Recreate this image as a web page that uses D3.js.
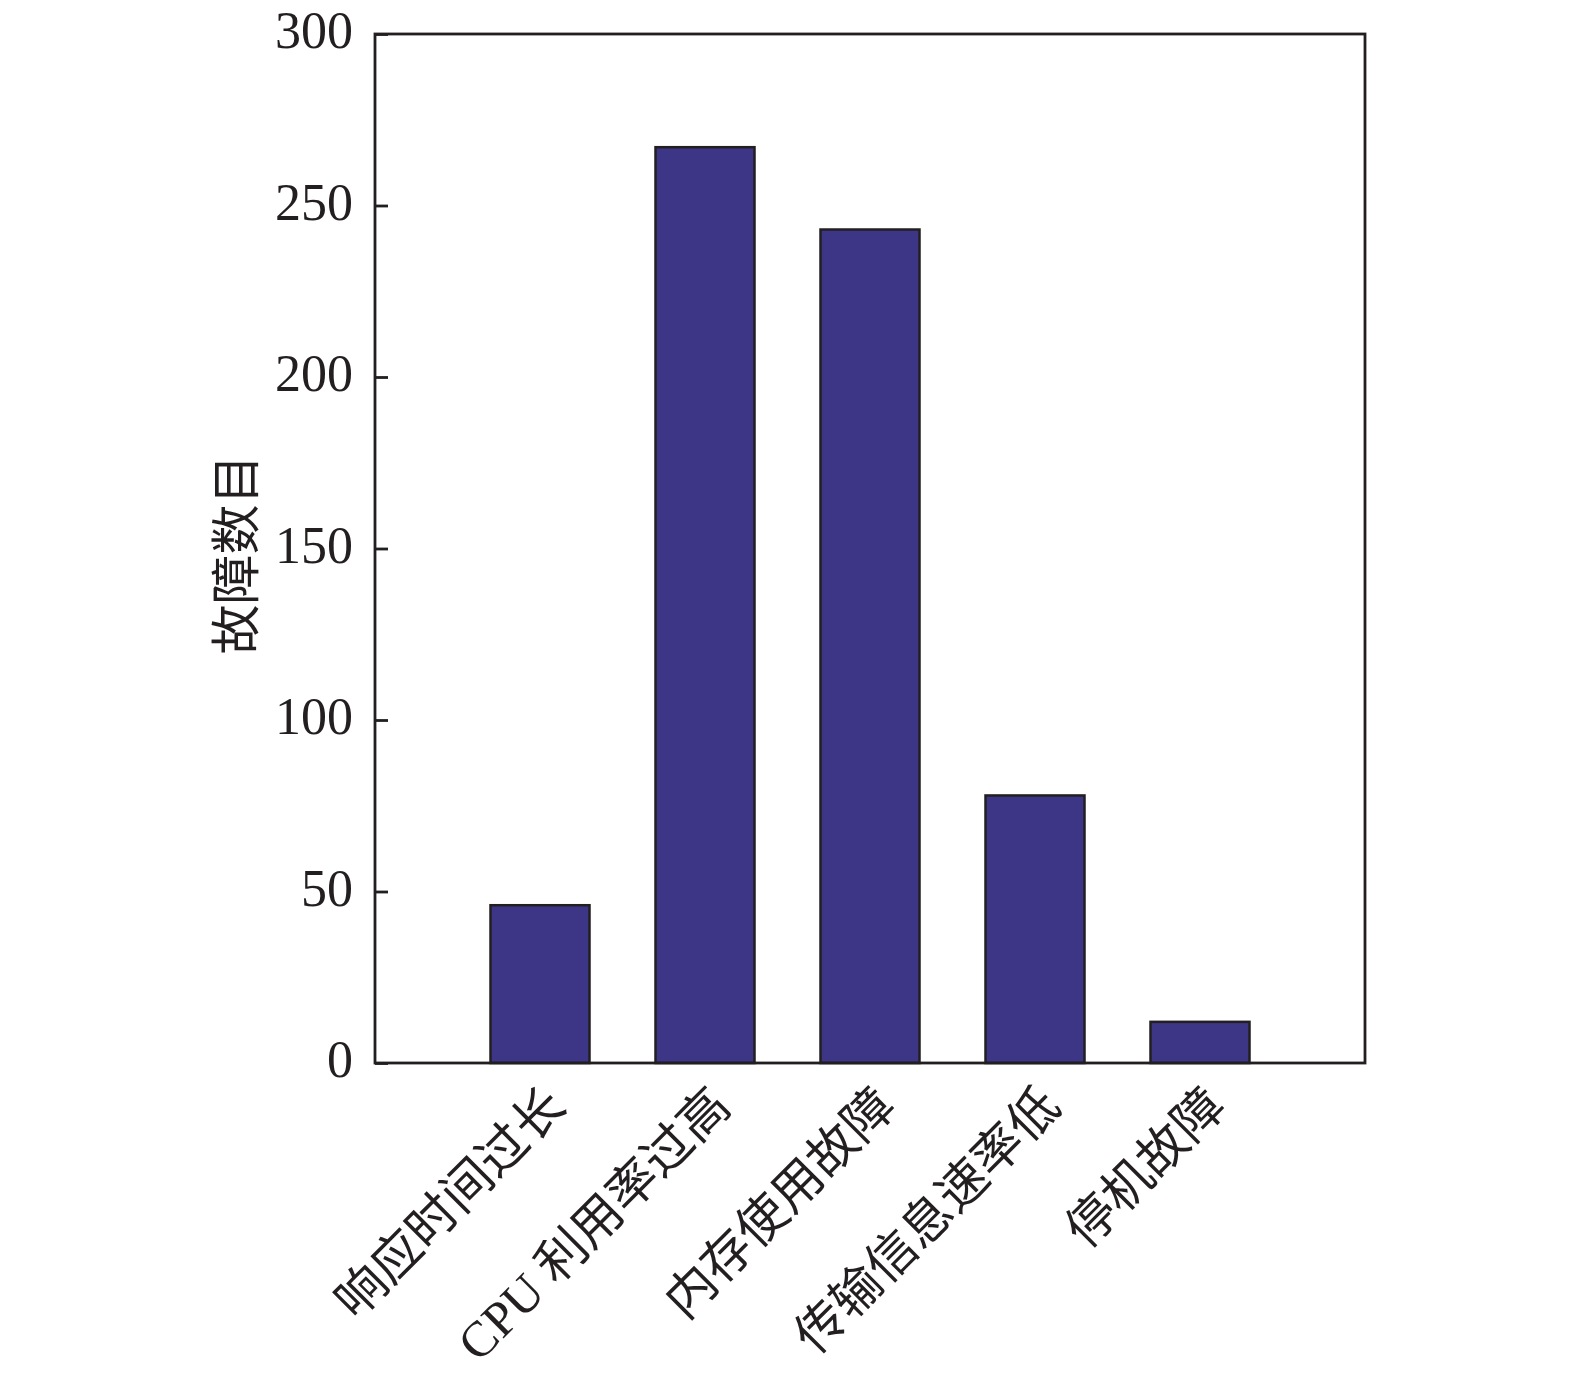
<!DOCTYPE html>
<html>
<head>
<meta charset="utf-8">
<script src="https://cdn.jsdelivr.net/npm/d3@7"></script>
<style>
  html, body { margin: 0; padding: 0; background: #fff; }
  svg { display: block; }
</style>
</head>
<body>
<div id="chart"></div>
<script>
// 故障类型统计柱状图
const categories = ["响应时间过长", "CPU 利用率过高", "内存使用故障", "传输信息速率低", "停机故障"];
const faultCounts = [46, 267, 243, 78, 12];
const yTicks = [0, 50, 100, 150, 200, 250, 300];
const yLabel = "故障数目";

const W = 1575, H = 1382;
const margin = { top: 34, left: 375, right: 210, bottom: 319 };
const width = W - margin.left - margin.right;
const height = H - margin.top - margin.bottom;

const ink = "#231f20";
const barColor = "#3d3586";
const serif = '"Liberation Serif", "Times New Roman", serif';
const cjk = '"Liberation Serif", "Noto Sans CJK SC", serif';

const root = d3.select("#chart").append("svg")
  .attr("width", W)
  .attr("height", H)
  .attr("viewBox", `0 0 ${W} ${H}`);

const svg = root.append("g")
  .attr("transform", `translate(${margin.left},${margin.top})`);

const x = d3.scalePoint().domain(categories).range([0, width]).padding(1);
const y = d3.scaleLinear().domain([0, 300]).range([height, 0]);
const barW = x.step() * 0.6;

// bars
svg.selectAll("rect.bar")
  .data(categories.map((c, i) => ({ c, v: faultCounts[i] })))
  .enter()
  .append("rect")
  .attr("class", "bar")
  .attr("x", d => x(d.c) - barW / 2)
  .attr("y", d => y(d.v))
  .attr("width", barW)
  .attr("height", d => y(0) - y(d.v))
  .attr("fill", barColor)
  .attr("stroke", ink)
  .attr("stroke-width", 2.5);

// y axis, ticks pointing inward
const yAxis = svg.append("g")
  .call(d3.axisLeft(y).tickValues(yTicks).tickSizeInner(-13).tickSizeOuter(0).tickPadding(22));
yAxis.select(".domain").remove();
yAxis.selectAll("line").attr("stroke", ink).attr("stroke-width", 2.8);
yAxis.selectAll("text")
  .attr("fill", ink)
  .attr("dy", "0.26em")
  .style("font-family", serif)
  .style("font-size", "52px");

// frame
svg.append("rect")
  .attr("x", 0)
  .attr("y", 0)
  .attr("width", width)
  .attr("height", height)
  .attr("fill", "none")
  .attr("stroke", ink)
  .attr("stroke-width", 2.8);

// x labels rotated
svg.append("g")
  .selectAll("text")
  .data(categories)
  .enter()
  .append("text")
  .attr("transform", d => `translate(${x(d) + 28},${height + 46}) rotate(-45)`)
  .attr("text-anchor", "end")
  .attr("fill", ink)
  .style("font-family", cjk)
  .style("font-size", "50px")
  .text(d => d);

// y label
root.append("text")
  .attr("transform", `translate(237,${margin.top + height / 2 + 6}) rotate(-90)`)
  .attr("text-anchor", "middle")
  .attr("dominant-baseline", "central")
  .attr("fill", ink)
  .style("font-family", cjk)
  .style("font-size", "50px")
  .text(yLabel);
</script>
</body>
</html>
